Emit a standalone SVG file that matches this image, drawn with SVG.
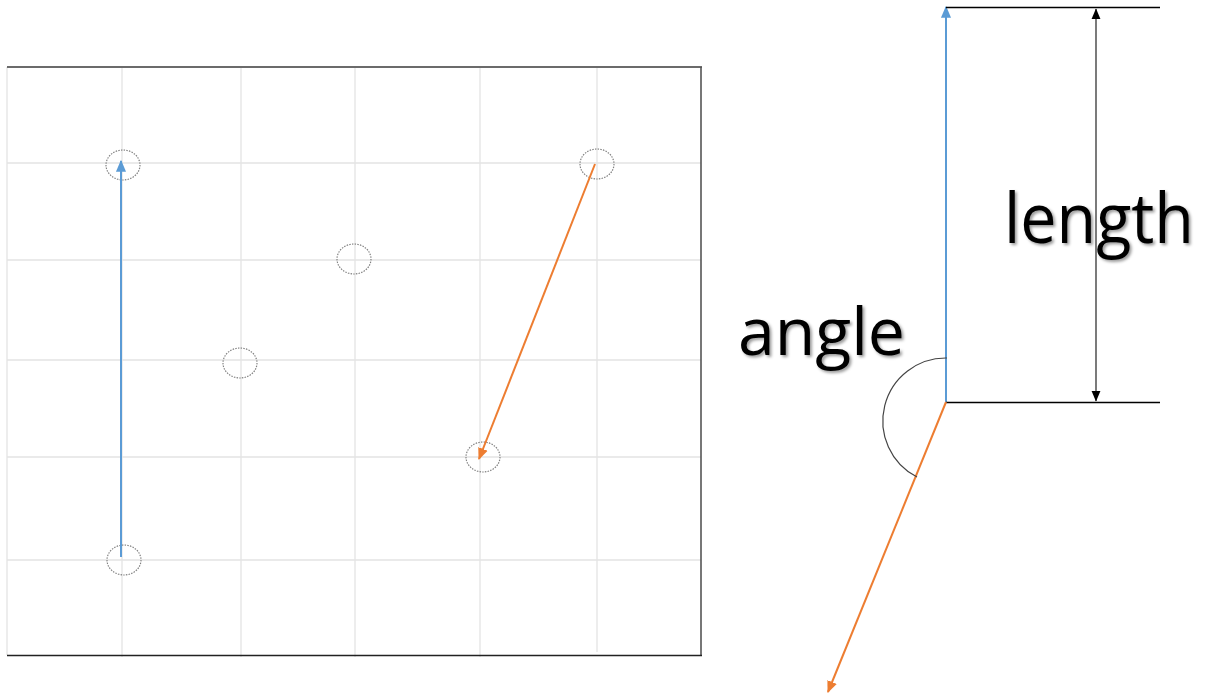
<svg xmlns="http://www.w3.org/2000/svg" width="1207" height="698" viewBox="0 0 1207 698">
<style>
.grid{stroke:#e3e3e3;stroke-width:1.3;fill:none}
.pt{fill:none;stroke:#808080;stroke-width:1.2;stroke-dasharray:1.5 1.2}
.blue{stroke:#5b9bd5;stroke-width:2;fill:none}
.orange{stroke:#ed7d31;stroke-width:2;fill:none}
.blk{stroke:#000;stroke-width:1.3;fill:none}
.lbl{font-family:"Open Sans","Liberation Sans",sans-serif;fill:#000}
</style>
<defs>
<marker id="ab" markerUnits="userSpaceOnUse" markerWidth="12" markerHeight="12" viewBox="0 0 10 10" refX="9" refY="5" orient="auto"><path d="M0,0.8 L10,5 L0,9.2 z" fill="#5b9bd5"/></marker>
<marker id="ao" markerUnits="userSpaceOnUse" markerWidth="12" markerHeight="12" viewBox="0 0 10 10" refX="9" refY="5" orient="auto"><path d="M0,0.8 L10,5 L0,9.2 z" fill="#ed7d31"/></marker>
<marker id="ak" markerUnits="userSpaceOnUse" markerWidth="11" markerHeight="11" viewBox="0 0 10 10" refX="9.5" refY="5" orient="auto-start-reverse"><path d="M0,0.8 L10,5 L0,9.2 z" fill="#000"/></marker>
<filter id="sh" x="-5%" y="-10%" width="110%" height="140%"><feDropShadow dx="2" dy="2" stdDeviation="1.5" flood-color="#000" flood-opacity="0.4"/></filter>
</defs>
<g id="grid">
<line class="grid" x1="7" y1="67" x2="7" y2="655"/>
<line class="grid" x1="122" y1="67" x2="122" y2="657"/>
<line class="grid" x1="241" y1="67" x2="241" y2="657"/>
<line class="grid" x1="355" y1="67" x2="355" y2="657"/>
<line class="grid" x1="480" y1="67" x2="480" y2="657"/>
<line class="grid" x1="597" y1="67" x2="597" y2="652"/>
<line class="grid" x1="7" y1="163" x2="701" y2="163"/>
<line class="grid" x1="7" y1="260" x2="701" y2="260"/>
<line class="grid" x1="7" y1="360" x2="701" y2="360"/>
<line class="grid" x1="7" y1="457" x2="701" y2="457"/>
<line class="grid" x1="7" y1="560" x2="701" y2="560"/>
<line x1="7" y1="67" x2="702" y2="67" stroke="#6b6b6b" stroke-width="2"/>
<line x1="701" y1="67" x2="701" y2="656" stroke="#555" stroke-width="1.6"/>
<line x1="7" y1="655.5" x2="702" y2="655.5" stroke="#222" stroke-width="1.6"/>
</g>
<g id="p1"><ellipse class="pt" cx="123" cy="165" rx="17" ry="15"/></g>
<g id="p2"><ellipse class="pt" cx="354" cy="259" rx="17" ry="15"/></g>
<g id="p3"><ellipse class="pt" cx="240" cy="363" rx="17" ry="15"/></g>
<g id="p4"><ellipse class="pt" cx="483" cy="457" rx="17" ry="15"/></g>
<g id="p5"><ellipse class="pt" cx="124" cy="560" rx="17" ry="15"/></g>
<g id="p6"><ellipse class="pt" cx="597" cy="164" rx="17" ry="15"/></g>
<g id="connectors">
<line class="blue" x1="121" y1="557" x2="121" y2="161" marker-end="url(#ab)"/>
<line class="orange" x1="595" y1="164" x2="479" y2="459" marker-end="url(#ao)"/>
<line class="blue" x1="946" y1="402" x2="946" y2="7" marker-end="url(#ab)"/>
<line class="blk" x1="946" y1="7.5" x2="1160" y2="7.5"/>
<line class="blk" x1="946" y1="402.5" x2="1160" y2="402.5"/>
<line x1="1096" y1="9" x2="1096" y2="401" stroke="#333" stroke-width="1.3" marker-start="url(#ak)" marker-end="url(#ak)"/>
<line class="orange" x1="946" y1="402" x2="828" y2="692" marker-end="url(#ao)"/>
<path d="M947,358 A63,63 0 0,0 917,477" fill="none" stroke="#444" stroke-width="1.2"/>
</g>
<g id="labels">
<text class="lbl" x="738" y="355" font-size="66" font-weight="500" textLength="167" lengthAdjust="spacingAndGlyphs" filter="url(#sh)">angle</text>
<text class="lbl" x="1004" y="243" font-size="70" font-weight="500" textLength="190" lengthAdjust="spacingAndGlyphs" filter="url(#sh)">length</text>
</g>
</svg>
